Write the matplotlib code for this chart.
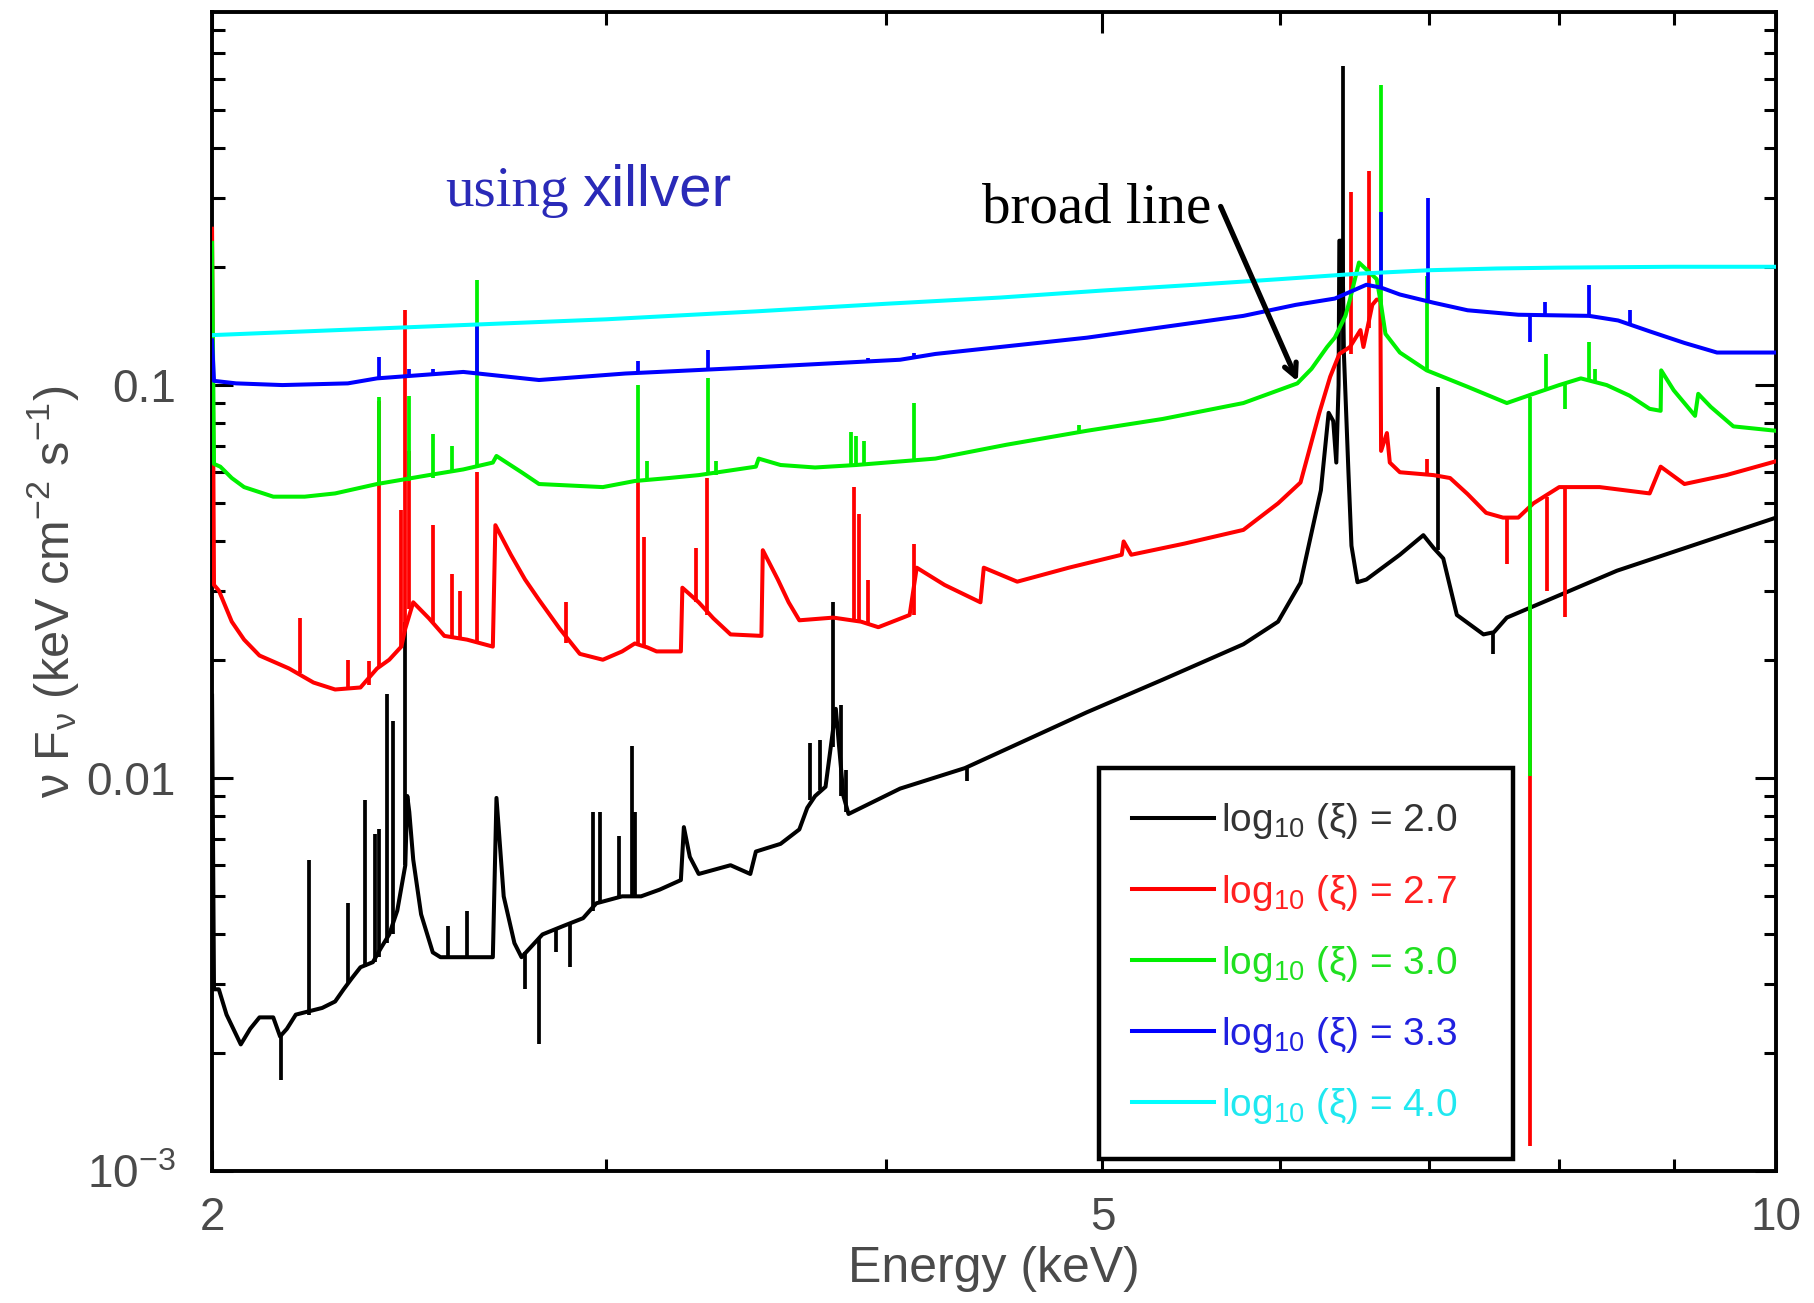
import matplotlib
matplotlib.use("Agg")
import matplotlib.pyplot as plt
from matplotlib.ticker import FixedLocator, FixedFormatter, NullFormatter

plt.rcParams['font.family'] = ['Liberation Sans', 'DejaVu Sans']
plt.rcParams['mathtext.fontset'] = 'custom'
plt.rcParams['mathtext.rm'] = 'Liberation Sans'
plt.rcParams['mathtext.it'] = 'Liberation Sans:italic'
plt.rcParams['mathtext.bf'] = 'Liberation Sans:bold'

# ---- data (energy in keV, nu F_nu) ----
# log xi = 2.0
E_black = [2.000, 2.004, 2.014, 2.03, 2.06, 2.08, 2.10, 2.13, 2.145, 2.16, 2.18, 2.24, 2.27, 2.29,
           2.31, 2.33, 2.36, 2.38, 2.40, 2.42, 2.44, 2.445, 2.45, 2.46, 2.48, 2.51, 2.53, 2.67, 2.68,
           2.70, 2.73, 2.75, 2.81, 2.87, 2.93, 2.97, 3.05, 3.11, 3.17, 3.24, 3.25, 3.27, 3.30, 3.41,
           3.48, 3.50, 3.59, 3.66, 3.69, 3.72, 3.76, 3.80, 3.83, 3.85, 4.06, 4.34, 4.92, 5.32, 5.78,
           5.99, 6.13, 6.26, 6.31, 6.34, 6.36, 6.375, 6.38, 6.40, 6.41, 6.44, 6.46, 6.50, 6.56, 6.79,
           6.956, 7.03, 7.10, 7.20, 7.40, 7.48, 7.58, 8.49, 10.0]
F_black = [0.0162, 0.0029, 0.0029, 0.0025, 0.0021, 0.0023, 0.00246, 0.00246, 0.0022, 0.0023, 0.0025,
           0.0026, 0.0027, 0.0029, 0.0031, 0.0033, 0.0034, 0.0037, 0.0040, 0.0046, 0.0060, 0.0090,
           0.0082, 0.0062, 0.0045, 0.0036, 0.0035, 0.0035, 0.0089, 0.0050, 0.0038, 0.0035, 0.0040,
           0.0042, 0.0044, 0.0048, 0.0050, 0.0050, 0.0052, 0.0055, 0.0075, 0.0063, 0.0057, 0.0060,
           0.0057, 0.0065, 0.0068, 0.0074, 0.0084, 0.0090, 0.0095, 0.0150, 0.0090, 0.0081, 0.0094,
           0.0106, 0.0147, 0.0178, 0.0219, 0.0250, 0.0314, 0.054, 0.085, 0.081, 0.0635, 0.10, 0.233,
           0.233, 0.12, 0.060, 0.039, 0.0315, 0.032, 0.037, 0.0415, 0.0385, 0.0362, 0.026, 0.0232,
           0.0235, 0.0256, 0.0337, 0.046]
Eline_black = [2.21, 2.30, 2.34, 2.365, 2.375, 2.395, 2.41, 2.44, 2.55, 2.60, 2.96, 2.98, 3.04, 3.08,
               3.09, 3.70, 3.74, 3.79, 3.82, 3.84, 6.405, 7.06, 2.148, 2.76, 2.80, 2.85, 2.89, 4.35, 7.47]
lo_black = [0.0025, 0.0030, 0.0033, 0.0034, 0.0035, 0.0038, 0.0040, 0.0060, 0.0035, 0.0035, 0.0046,
            0.0048, 0.0050, 0.0050, 0.0050, 0.0088, 0.0093, 0.0120, 0.0090, 0.0082, 0.12, 0.038,
            0.0017, 0.0029, 0.0021, 0.0036, 0.0033, 0.0098, 0.0207]
hi_black = [0.0062, 0.0048, 0.0088, 0.0072, 0.0074, 0.0164, 0.014, 0.025, 0.0042, 0.0046, 0.0082,
            0.0082, 0.0071, 0.0121, 0.0082, 0.0123, 0.0125, 0.028, 0.0153, 0.0105, 0.65, 0.099,
            0.0022, 0.0036, 0.0039, 0.0041, 0.0043, 0.0106, 0.0234]

# log xi = 2.7
E_red = [2.000, 2.004, 2.014, 2.041, 2.067, 2.10, 2.165, 2.22, 2.27, 2.33, 2.37, 2.40, 2.43, 2.44,
         2.46, 2.50, 2.54, 2.60, 2.67, 2.677, 2.72, 2.76, 2.80, 2.86, 2.92, 2.99, 3.05, 3.09, 3.13,
         3.16, 3.24, 3.245, 3.30, 3.35, 3.41, 3.52, 3.525, 3.58, 3.62, 3.66, 3.79, 3.90, 3.97, 4.10,
         4.13, 4.25, 4.41, 4.425, 4.58, 4.83, 5.10, 5.11, 5.15, 5.44, 5.78, 5.99, 6.13, 6.18, 6.25,
         6.32, 6.38, 6.45, 6.52, 6.54, 6.60, 6.63, 6.655, 6.66, 6.70, 6.72, 6.79, 7.03, 7.15, 7.28,
         7.42, 7.55, 7.67, 7.79, 8.00, 8.34, 8.78, 8.88, 9.10, 9.50, 10.0]
F_red = [0.25, 0.031, 0.030, 0.025, 0.0225, 0.0205, 0.0190, 0.0175, 0.0168, 0.0170, 0.0190, 0.0200,
         0.0216, 0.0240, 0.0280, 0.0255, 0.0230, 0.0225, 0.0216, 0.044, 0.037, 0.032, 0.0284, 0.024,
         0.0207, 0.0200, 0.0210, 0.0220, 0.0215, 0.0210, 0.0210, 0.0305, 0.0280, 0.0255, 0.0232,
         0.0230, 0.038, 0.032, 0.028, 0.0252, 0.0256, 0.0250, 0.0242, 0.0260, 0.0343, 0.031, 0.0280,
         0.0343, 0.0316, 0.0343, 0.0370, 0.0400, 0.0370, 0.0395, 0.0428, 0.0500, 0.0565, 0.0670,
         0.085, 0.105, 0.120, 0.125, 0.138, 0.125, 0.160, 0.165, 0.165, 0.068, 0.0755, 0.0635, 0.0600,
         0.0590, 0.0580, 0.0528, 0.0473, 0.046, 0.0460, 0.0500, 0.0550, 0.0550, 0.0530, 0.0620,
         0.0560, 0.0590, 0.0640]
Eline_red = [2.19, 2.30, 2.35, 2.374, 2.43, 2.44, 2.45, 2.51, 2.56, 2.58, 2.627, 2.88, 3.10, 3.12,
             3.29, 3.33, 3.87, 3.89, 3.93, 4.12, 6.46, 6.58, 6.98, 7.58, 7.76, 7.90, 8.05]
lo_red = [0.0185, 0.0168, 0.0172, 0.019, 0.0216, 0.024, 0.027, 0.025, 0.023, 0.0225, 0.0222, 0.022,
          0.022, 0.0215, 0.028, 0.026, 0.025, 0.025, 0.0245, 0.026, 0.12, 0.14, 0.059, 0.035,
          0.00116, 0.030, 0.0257]
hi_red = [0.0255, 0.0200, 0.0198, 0.091, 0.048, 0.155, 0.068, 0.044, 0.033, 0.030, 0.060, 0.028,
          0.057, 0.041, 0.0385, 0.058, 0.055, 0.047, 0.032, 0.0395, 0.31, 0.35, 0.065, 0.046,
          0.048, 0.052, 0.055]

# log xi = 3.0
E_green = [2.000, 2.004, 2.017, 2.041, 2.067, 2.13, 2.20, 2.27, 2.37, 2.50, 2.59, 2.67, 2.68, 2.75,
           2.80, 2.99, 3.09, 3.20, 3.30, 3.50, 3.51, 3.59, 3.72, 3.88, 4.21, 4.53, 4.92, 5.32, 5.78,
           6.11, 6.20, 6.30, 6.35, 6.42, 6.45, 6.51, 6.63, 6.66, 6.69, 6.79, 6.98, 7.28, 7.58, 7.79,
           8.00, 8.18, 8.40, 8.60, 8.78, 8.88, 8.885, 9.00, 9.20, 9.23, 9.35, 9.57, 10.0]
F_green = [0.23, 0.063, 0.062, 0.058, 0.055, 0.052, 0.052, 0.053, 0.056, 0.059, 0.061, 0.0635, 0.066,
           0.060, 0.056, 0.055, 0.057, 0.058, 0.059, 0.062, 0.065, 0.0626, 0.0617, 0.0626, 0.065,
           0.0705, 0.0765, 0.082, 0.090, 0.101, 0.110, 0.125, 0.132, 0.150, 0.165, 0.205, 0.186,
           0.160, 0.135, 0.121, 0.109, 0.099, 0.090, 0.095, 0.100, 0.104, 0.100, 0.094, 0.087, 0.086,
           0.109, 0.097, 0.0835, 0.095, 0.088, 0.0785, 0.0765]
Eline_green = [2.374, 2.45, 2.51, 2.56, 2.627, 3.10, 3.13, 3.333, 3.36, 3.86, 3.88, 3.91, 4.12, 4.88,
               6.66, 6.98, 7.89, 8.25, 8.30, 7.76, 8.05]
lo_green = [0.056, 0.057, 0.058, 0.060, 0.062, 0.057, 0.057, 0.059, 0.059, 0.062, 0.0626, 0.0626,
            0.064, 0.076, 0.16, 0.109, 0.097, 0.103, 0.102, 0.0101, 0.087]
hi_green = [0.093, 0.094, 0.075, 0.070, 0.185, 0.100, 0.064, 0.104, 0.064, 0.076, 0.074, 0.072,
            0.090, 0.079, 0.58, 0.19, 0.120, 0.129, 0.110, 0.093, 0.101]

# log xi = 3.3
E_blue = [2.000, 2.004, 2.05, 2.15, 2.30, 2.37, 2.59, 2.80, 3.06, 3.50, 4.06, 4.21, 4.92, 5.78, 6.10,
          6.35, 6.56, 6.66, 6.79, 7.03, 7.28, 7.67, 8.25, 8.50, 8.78, 9.10, 9.41, 10.0]
F_blue = [0.130, 0.1025, 0.101, 0.100, 0.101, 0.104, 0.108, 0.103, 0.107, 0.111, 0.116, 0.120, 0.132,
          0.150, 0.160, 0.166, 0.180, 0.177, 0.170, 0.162, 0.155, 0.151, 0.150, 0.146, 0.137, 0.128,
          0.121, 0.121]
Eline_blue = [2.374, 2.45, 2.51, 2.627, 3.10, 3.333, 3.93, 4.12, 6.66, 6.99, 7.88, 8.25, 8.60, 7.76]
lo_blue = [0.104, 0.105, 0.106, 0.108, 0.107, 0.109, 0.114, 0.118, 0.177, 0.163, 0.150, 0.150, 0.143,
           0.129]
hi_blue = [0.118, 0.110, 0.110, 0.144, 0.115, 0.123, 0.117, 0.121, 0.276, 0.30, 0.163, 0.180, 0.155,
           0.150]

# log xi = 4.0
E_cyan = [2.0, 2.5, 3.0, 3.5, 4.0, 4.5, 5.0, 5.5, 6.0, 6.5, 7.0, 7.5, 8.0, 9.0, 10.0]
F_cyan = [0.134, 0.141, 0.147, 0.154, 0.161, 0.167, 0.174, 0.180, 0.186, 0.192, 0.196, 0.198, 0.199,
          0.200, 0.200]

labels = ['log$_{10}$ (ξ) = 2.0', 'log$_{10}$ (ξ) = 2.7', 'log$_{10}$ (ξ) = 3.0',
          'log$_{10}$ (ξ) = 3.3', 'log$_{10}$ (ξ) = 4.0']
colors = ['#000000', '#ff0000', '#00f000', '#0000ff', '#00ffff']
text_colors = ['#333333', '#ff2020', '#20e020', '#2020e0', '#20e8f0']

series = [
    (E_black, F_black, Eline_black, lo_black, hi_black),
    (E_red, F_red, Eline_red, lo_red, hi_red),
    (E_green, F_green, Eline_green, lo_green, hi_green),
    (E_blue, F_blue, Eline_blue, lo_blue, hi_blue),
    (E_cyan, F_cyan, [], [], []),
]

fig = plt.figure(figsize=(18.14, 13.03), dpi=100)
ax = fig.add_axes([0.1169, 0.1013, 0.8622, 0.8895])

for i, (E, F, El, lo, hi) in enumerate(series):
    ax.plot(E, F, color=colors[i], lw=2.9, label=labels[i], zorder=2 + i)
    if El:
        ax.vlines(El, lo, hi, color=colors[i], lw=2.7, zorder=2 + i)

ax.set_xscale('log')
ax.set_yscale('log')
ax.set_xlim(2, 10)
ax.set_ylim(1e-3, 0.89)

ax.xaxis.set_major_locator(FixedLocator([2, 5, 10]))
ax.xaxis.set_major_formatter(FixedFormatter(['2', '5', '10']))
ax.xaxis.set_minor_locator(FixedLocator([3, 4, 6, 7, 8, 9]))
ax.xaxis.set_minor_formatter(NullFormatter())
ax.yaxis.set_major_locator(FixedLocator([1e-3, 1e-2, 1e-1]))
ax.yaxis.set_major_formatter(FixedFormatter(['10$^{-3}$', '0.01', '0.1']))
ax.yaxis.set_minor_locator(FixedLocator([k * 10.0 ** p for p in (-3, -2, -1) for k in range(2, 10)]))
ax.yaxis.set_minor_formatter(NullFormatter())

tick_gray = '#4a4a4a'
ax.tick_params(which='both', direction='in', top=True, right=True, width=2.2, colors='black',
               labelcolor=tick_gray, labelsize=33)
ax.tick_params(which='major', length=15)
ax.tick_params(which='minor', length=9)
ax.tick_params(axis='y', which='major', pad=26)
ax.tick_params(axis='x', which='major', pad=18)
for sp in ax.spines.values():
    sp.set_linewidth(2.8)

ax.set_xlabel('Energy (keV)', fontsize=36, color=tick_gray, labelpad=4)
ax.set_ylabel('ν F$_\\mathrm{ν}$ (keV cm$^{-2}$ s$^{-1}$)', fontsize=35, color=tick_gray, labelpad=4)

leg = ax.legend(loc='lower left', bbox_to_anchor=(0.567, 0.0104, 0.265, 0.33), mode='expand',
                borderaxespad=0, fontsize=28, handlelength=2.1, handletextpad=0.2,
                labelspacing=0.8, borderpad=0.85, fancybox=False, framealpha=1, edgecolor='black')
leg.get_frame().set_linewidth(3.2)
for txt, c in zip(leg.get_texts(), text_colors):
    txt.set_color(c)

ax.text(0.149, 0.833, 'using', transform=ax.transAxes, fontsize=41, color='#2a2ab8',
        family='Liberation Serif')
ax.text(0.237, 0.833, 'xillver', transform=ax.transAxes, fontsize=42, color='#2a2ab8',
        family='Liberation Sans')
ax.text(0.492, 0.818, 'broad line', transform=ax.transAxes, fontsize=41, color='black',
        family='Liberation Serif', zorder=10)
ax.annotate('', xy=(6.12, 0.1006), xytext=(5.64, 0.289),
            arrowprops=dict(arrowstyle='->,head_length=0.9,head_width=0.45', lw=3.8, color='black'),
            zorder=10)

fig.savefig('out.png', dpi=100)
